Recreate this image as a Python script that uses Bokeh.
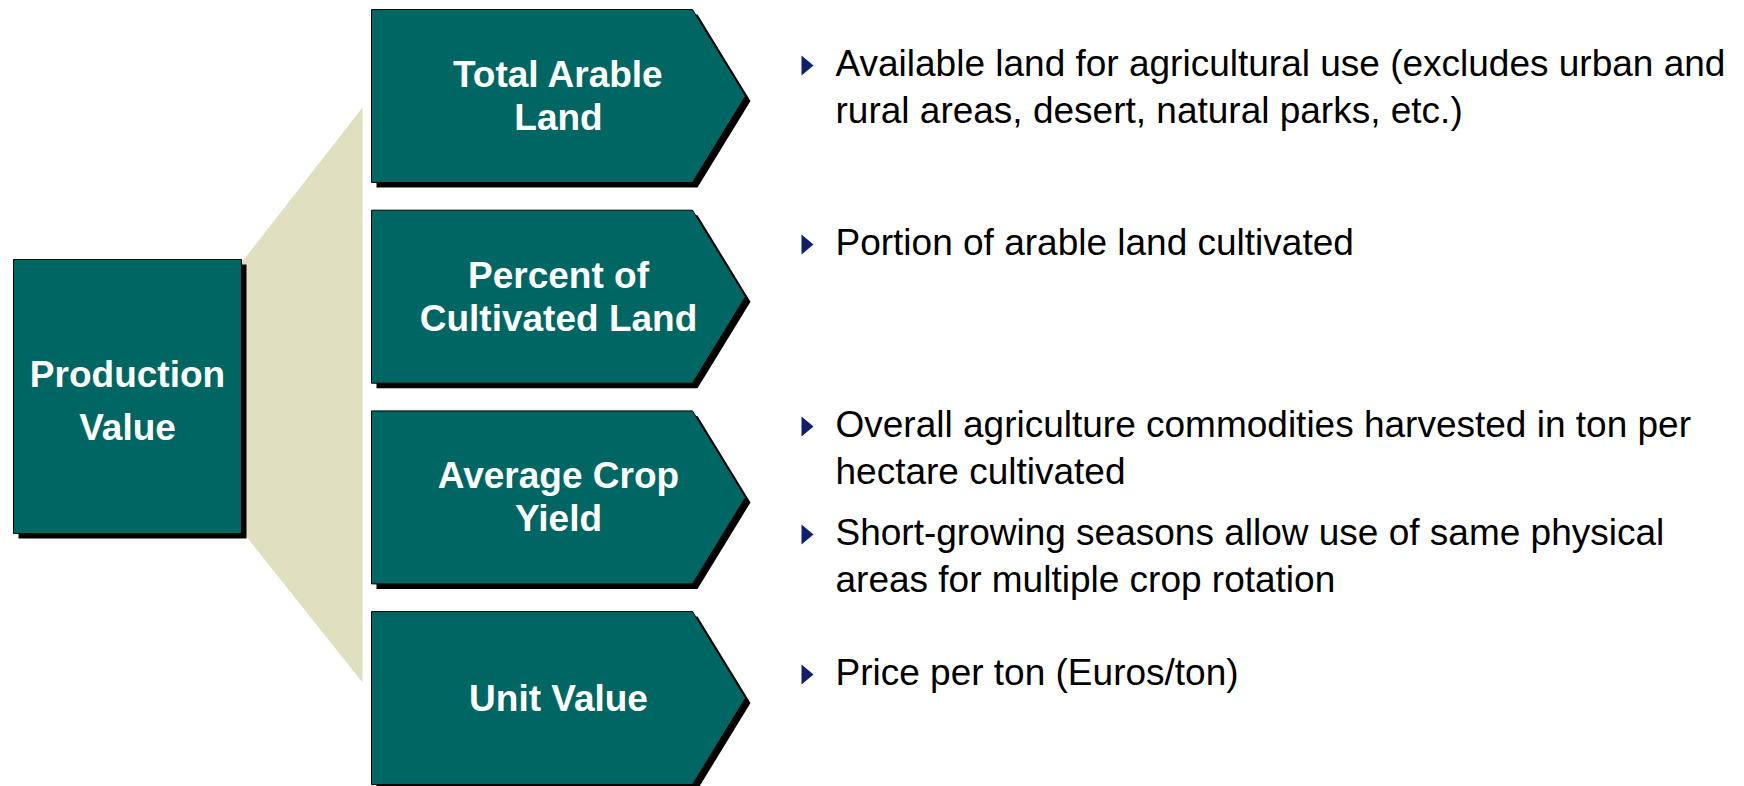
from bokeh.plotting import figure
from bokeh.models import Range1d
from bokeh.embed import file_html
from bokeh.resources import INLINE
from bokeh.core.properties import value

# ---- content ----
root_label = ["Production", "Value"]
driver_labels = [
    ["Total Arable", "Land"],
    ["Percent of", "Cultivated Land"],
    ["Average Crop", "Yield"],
    ["Unit Value"],
]
bullet_texts = [
    ["Available land for agricultural use (excludes urban and",
     "rural areas, desert, natural parks, etc.)"],
    ["Portion of arable land cultivated"],
    ["Overall agriculture commodities harvested in ton per",
     "hectare cultivated"],
    ["Short-growing seasons allow  use of same physical",
     "areas for multiple crop rotation"],
    ["Price per ton (Euros/ton)"],
]

# ---- layout / style ----
W, H = 1744, 786
TEAL = "#006663"
TAN = "#E0DFC0"
NAVY = "#0F1F6B"
FONT = value("Liberation Sans")
FS = "37px"

p = figure(width=W, height=H, output_backend="svg", toolbar_location=None,
           x_range=Range1d(0, W), y_range=Range1d(H, 0),
           min_border=0)
p.axis.visible = False
p.grid.visible = False
p.outline_line_color = None
p.background_fill_color = "white"

# root box geometry
rx0, rx1, ry0, ry1 = 13, 241, 259, 533
rcy = (ry0 + ry1) / 2
# driver boxes
bx0, bx1, btip = 371, 692, 745
btop0, bstep, bh = 9, 200.7, 173
SH = 5

# connector trapezoid
p.patch([rx1, 362, 362, rx1], [262, 107, 682, 530], fill_color=TAN, line_color=None)

# root box with shadow
p.quad(left=[rx0 + SH], right=[rx1 + SH], top=[ry0 + SH], bottom=[ry1 + SH],
       fill_color="black", line_color=None)
p.quad(left=[rx0], right=[rx1], top=[ry0], bottom=[ry1],
       fill_color=TEAL, line_color="black", line_width=1)

n_lines = len(root_label)
rsp = 53
p.text(x=[(rx0 + rx1) / 2] * n_lines,
       y=[rcy + 4 - rsp * (n_lines - 1) / 2 + k * rsp for k in range(n_lines)],
       text=root_label, text_font=FONT, text_font_size=FS,
       text_font_style="bold", text_color="white", text_align="center",
       text_baseline="alphabetic")

# driver pentagons
xs_s, ys_s, xs_b, ys_b = [], [], [], []
tx, ty, tt = [], [], []
for i, lines in enumerate(driver_labels):
    t = btop0 + i * bstep
    b = t + bh
    cy = (t + b) / 2
    xs = [bx0, bx1, btip, bx1, bx0]
    ys = [t, t, cy, b, b]
    xs_s.append([x + SH for x in xs])
    ys_s.append([y + SH for y in ys])
    xs_b.append(xs)
    ys_b.append(ys)
    sp = 43
    for k, ln in enumerate(lines):
        tx.append((bx0 + btip) / 2)
        ty.append(cy - sp * (len(lines) - 1) / 2 + k * sp)
        tt.append(ln)

p.patches(xs_s, ys_s, fill_color="black", line_color=None)
p.patches(xs_b, ys_b, fill_color=TEAL, line_color="black", line_width=1)
p.text(x=tx, y=ty, text=tt, text_font=FONT, text_font_size=FS,
       text_font_style="bold", text_color="white", text_align="center",
       text_baseline="alphabetic")

# bullets
first_baselines = [63, 242, 424, 532, 672]
lsp = 47
btx, bty, btt = [], [], []
trix, triy = [], []
for base, lines in zip(first_baselines, bullet_texts):
    for k, ln in enumerate(lines):
        btx.append(835)
        bty.append(base + k * lsp)
        btt.append(ln)
    c = base + 2
    trix.append([801, 813, 801])
    triy.append([c - 10, c, c + 10])

p.patches(trix, triy, fill_color=NAVY, line_color=None)
p.text(x=btx, y=bty, text=btt, text_font=FONT, text_font_size=FS,
       text_color="black", text_align="left", text_baseline="alphabetic")

open("out.html", "w").write(file_html(p, INLINE))
